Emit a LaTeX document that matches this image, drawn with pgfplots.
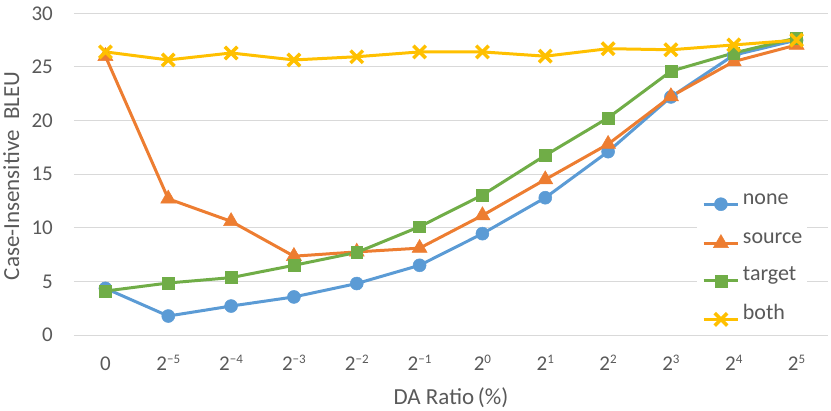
\documentclass[border=0pt]{standalone}
\usepackage{pgfplots}
\pgfplotsset{compat=1.18}
\usepackage{fontspec}
\setmainfont{Carlito}
\definecolor{cblue}{HTML}{5B9BD5}
\definecolor{corange}{HTML}{ED7D31}
\definecolor{cgreen}{HTML}{70AD47}
\definecolor{cyellow}{HTML}{FFC000}
\definecolor{gridgray}{HTML}{D9D9D9}
\definecolor{textgray}{HTML}{595959}
\newcommand\sexp[1]{2\raisebox{7.5pt}{\fontsize{13}{15}\selectfont #1}}
\begin{document}
\begin{tikzpicture}
\begin{axis}[
  scale only axis, width=754pt, height=321.7pt,
  xmin=-0.5, xmax=11.5, ymin=0, ymax=30,
  xtick={0,1,2,3,4,5,6,7,8,9,10,11},
  xticklabels={0,\sexp{−5},\sexp{−4},\sexp{−3},\sexp{−2},\sexp{−1},\sexp{0},\sexp{1},\sexp{2},\sexp{3},\sexp{4},\sexp{5}},
  ytick={0,5,10,15,20,25,30},
  ymajorgrids, grid style={line width=1pt, draw=gridgray},
  axis line style={draw=none}, major tick length=0pt,
  tick label style={font=\fontsize{21}{25}\selectfont, text=textgray},
  /pgf/number format/assume math mode=true,
  xticklabel style={anchor=base, inner sep=0pt, yshift=-35.7pt},
  yticklabel style={anchor=east, inner sep=0pt, xshift=-21pt},
  xlabel={DA Ratio\,(\%)},
  ylabel={Case-Insensitive\ \ BLEU},
  label style={font=\fontsize{23}{27}\selectfont, text=textgray},
  xlabel style={at={(axis description cs:0.5,-0.2160)}, anchor=base, inner sep=0pt},
  ylabel style={at={(axis description cs:-0.0942,0.4943)}, anchor=north, inner sep=0pt},
  clip=false,
  legend style={at={(axis description cs:0.8263,0.4756)}, anchor=north west,
    fill=white, draw=none, inner xsep=5pt, inner ysep=8pt,
    font=\fontsize{22}{26}\selectfont, text=textgray, row sep=18.6pt,
    nodes={inner sep=0pt, text height=14pt, text depth=5pt, anchor=base west},
    /tikz/every odd column/.append style={column sep=3.3pt}},
  legend cell align=left,
  legend image code/.code={\draw[mark repeat=2,mark phase=2] plot coordinates {(0pt,0pt) (17.2pt,0pt) (34.4pt,0pt)};},
  every axis plot/.append style={line width=3pt},
]
\coordinate (sw) at (rel axis cs:0,0);
\coordinate (ne) at (rel axis cs:1,1);
\addplot[color=cblue, mark=*, mark size=6.5pt, mark options={solid, line width=0.5pt, fill=cblue}]
  coordinates {(0,4.35) (1,1.77) (2,2.7) (3,3.55) (4,4.8) (5,6.5) (6,9.45) (7,12.8) (8,17.1) (9,22.2) (10,26.1) (11,27.5)};
\addlegendentry{none}
\addplot[color=corange, mark=triangle*, mark size=8.7pt, mark options={solid, line width=0.5pt, fill=corange}]
  coordinates {(0,26.0) (1,12.7) (2,10.6) (3,7.35) (4,7.75) (5,8.1) (6,11.15) (7,14.5) (8,17.8) (9,22.25) (10,25.5) (11,27.05)};
\addlegendentry{source}
\addplot[color=cgreen, mark=square*, mark size=5.9pt, mark options={solid, line width=0.5pt, fill=cgreen}]
  coordinates {(0,4.1) (1,4.85) (2,5.35) (3,6.5) (4,7.7) (5,10.1) (6,13.05) (7,16.75) (8,20.25) (9,24.6) (10,26.3) (11,27.7)};
\addlegendentry{target}
\addplot[color=cyellow, mark=x, mark size=8.8pt, mark options={solid, line width=3.5pt}]
  coordinates {(0,26.4) (1,25.65) (2,26.3) (3,25.65) (4,25.95) (5,26.4) (6,26.4) (7,26.0) (8,26.7) (9,26.6) (10,27.05) (11,27.5)};
\addlegendentry{both}
\end{axis}
\pgfresetboundingbox
\path ([xshift=-74pt,yshift=-75pt]sw) rectangle ([xshift=3pt,yshift=13.3pt]ne);
\end{tikzpicture}
\end{document}
